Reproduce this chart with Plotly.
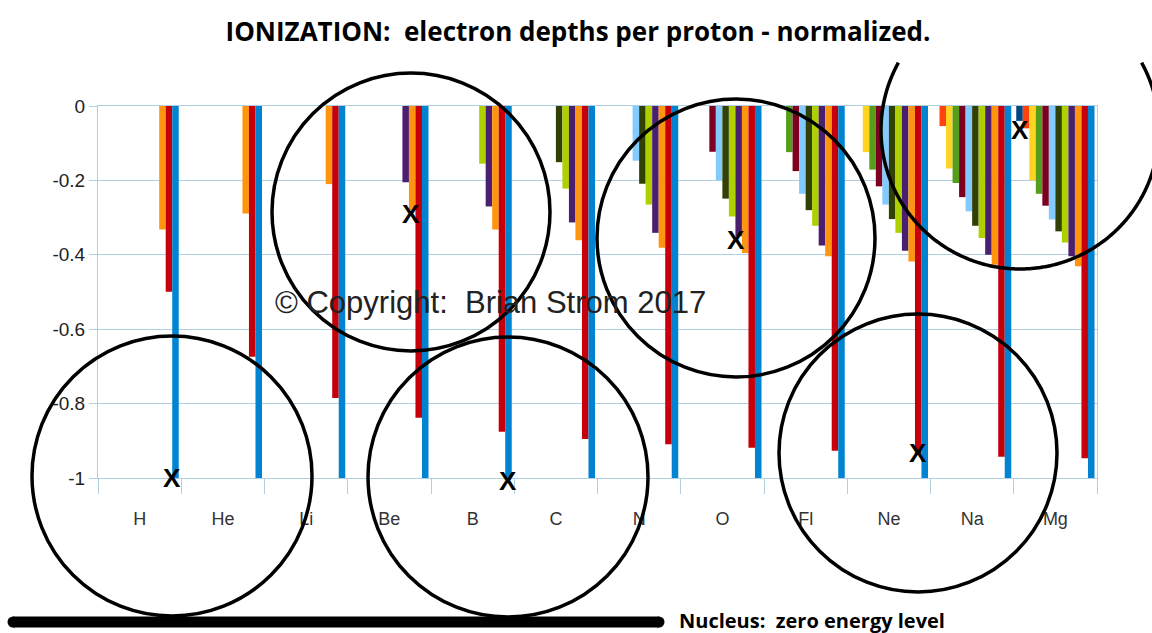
import numpy as np
import plotly.graph_objects as go

# categories (elements)
elements = ["H", "He", "Li", "Be", "B", "C", "N", "O", "Fl", "Ne", "Na", "Mg"]

# normalized electron depths, one list per ionization series (None = no bar)
depth_01 = [None, None, None, None, None, None, None, None, None, None, None, -0.04]
depth_02 = [None, None, None, None, None, None, None, None, None, None, -0.054, -0.06]
depth_03 = [None, None, None, None, None, None, None, None, None, -0.124, -0.168, -0.2]
depth_04 = [None, None, None, None, None, None, None, None, -0.124, -0.171, -0.207, -0.236]
depth_05 = [None, None, None, None, None, None, None, -0.123, -0.175, -0.216, -0.245, -0.268]
depth_06 = [None, None, None, None, None, None, -0.147, -0.2, -0.236, -0.265, -0.283, -0.305]
depth_07 = [None, None, None, None, None, -0.151, -0.209, -0.249, -0.28, -0.304, -0.322, -0.337]
depth_08 = [None, None, None, None, -0.155, -0.222, -0.265, -0.297, -0.322, -0.341, -0.355, -0.367]
depth_09 = [None, None, None, -0.205, -0.27, -0.313, -0.341, -0.35, -0.375, -0.389, -0.4, -0.404]
depth_10 = [-0.332, -0.289, -0.21, -0.28, -0.332, -0.361, -0.381, -0.395, -0.404, -0.418, -0.427, -0.431]
depth_11 = [-0.499, -0.674, -0.785, -0.838, -0.876, -0.895, -0.909, -0.919, -0.927, -0.935, -0.943, -0.947]
depth_12 = [-1, -1, -1, -1, -1, -1, -1, -1, -1, -1, -1, -1]

series = [depth_01, depth_02, depth_03, depth_04, depth_05, depth_06,
          depth_07, depth_08, depth_09, depth_10, depth_11, depth_12]

# LibreOffice default palette
colors = ["#004586", "#ff420e", "#ffd320", "#579d1c", "#7e0021", "#83caff",
          "#314004", "#aecf00", "#4b1f6f", "#ff950e", "#c5000b", "#0084d1"]

y_ticks = [0, -0.2, -0.4, -0.6, -0.8, -1]
y_tick_text = ["0", "-0.2", "-0.4", "-0.6", "-0.8", "-1"]

W, H = 1152, 633
L, R, T, B = 98, 55, 106, 155
plot_w = W - L - R
plot_h = H - T - B
grid = "#b0cfe3"


def px(x):
    return (x - L) / plot_w


def py(y):
    return (H - B - y) / plot_h


fig = go.Figure()
for i, vals in enumerate(series):
    fig.add_trace(go.Bar(
        x=elements, y=vals, name=f"Series {i + 1}",
        marker=dict(color=colors[i], line=dict(width=0)),
        showlegend=False,
    ))

# circles drawn over the chart (pixel centre, radius)
circles = [(172, 476, 140), (411, 212, 139), (508, 477, 140),
           (736, 238, 139), (918, 453, 139)]
shapes = []
for cx, cy, r in circles:
    shapes.append(dict(type="circle", xref="paper", yref="paper",
                       x0=px(cx - r), x1=px(cx + r), y0=py(cy + r), y1=py(cy - r),
                       line=dict(color="black", width=3.5), layer="above"))

# top-right circle is cut off near the top of the picture
cx, cy, r = 1020, 130, 139
t = np.linspace(-np.pi / 2, 3 * np.pi / 2, 721)
xs = cx + r * np.cos(t)
ys = cy + r * np.sin(t)
keep = ys >= 62
path = "M " + " L ".join(f"{px(a):.5f},{py(b):.5f}" for a, b in zip(xs[keep], ys[keep]))
shapes.append(dict(type="path", xref="paper", yref="paper", path=path,
                   line=dict(color="black", width=3.5), layer="above"))

# thick nucleus bar at the bottom
shapes.append(dict(type="line", xref="paper", yref="paper",
                   x0=px(13), x1=px(659), y0=py(622), y1=py(622),
                   line=dict(color="black", width=11), layer="above"))
for ex in (13, 659):
    shapes.append(dict(type="circle", xref="paper", yref="paper",
                       x0=px(ex - 5.5), x1=px(ex + 5.5), y0=py(622 + 5.5), y1=py(622 - 5.5),
                       fillcolor="black", line=dict(width=0), layer="above"))

annotations = [
    dict(text="© Copyright:  Brian Strom 2017", xref="paper", yref="paper",
         x=px(490), y=py(302), showarrow=False, xanchor="center", yanchor="middle",
         font=dict(family="Liberation Sans, Arial", size=31, color="#222222")),
    dict(text="<b>Nucleus:  zero energy level</b>", xref="paper", yref="paper",
         x=px(677), y=py(620), showarrow=False, xanchor="left", yanchor="middle",
         font=dict(family="Open Sans", size=20, color="black")),
]
for cx, cy in [(172, 478), (411, 214), (508, 481), (736, 240), (918, 453), (1020, 130)]:
    annotations.append(dict(text="<b>X</b>", xref="paper", yref="paper",
                            x=px(cx), y=py(cy), showarrow=False,
                            xanchor="center", yanchor="middle",
                            font=dict(family="Liberation Sans, Arial", size=26, color="black")))

fig.update_layout(
    width=W, height=H,
    margin=dict(l=L, r=R, t=T, b=B),
    paper_bgcolor="white", plot_bgcolor="white",
    barmode="group", bargap=0.06, bargroupgap=0,
    title=dict(text="<b>IONIZATION:  electron depths per proton - normalized.</b>",
               x=578 / W, xanchor="center", y=1 - 32 / H, yanchor="middle",
               font=dict(family="Open Sans", size=26, color="black")),
    xaxis=dict(type="category", showgrid=False, zeroline=False,
               showline=True, linecolor=grid, linewidth=1, mirror=True,
               ticks="outside", tickson="boundaries", ticklen=15, tickcolor=grid,
               ticklabelstandoff=24,
               tickfont=dict(family="Liberation Sans, Arial", size=18, color="#333333")),
    xaxis2=dict(overlaying="x", side="top", anchor="y", range=[-0.5, len(elements) - 0.5],
                tickvals=[i + 0.5 for i in range(len(elements) - 1)],
                ticks="inside", ticklen=8, tickcolor=grid, showticklabels=False,
                showgrid=False, zeroline=False, showline=False),
    yaxis=dict(range=[-1, 0], tickvals=y_ticks, ticktext=y_tick_text,
               showgrid=True, gridcolor=grid, gridwidth=1, zeroline=False,
               showline=True, linecolor=grid, linewidth=1, mirror=True,
               ticks="outside", ticklen=8, tickcolor=grid,
               tickfont=dict(family="Liberation Sans, Arial", size=19, color="#222222")),
    shapes=shapes,
    annotations=annotations,
)

fig.write_html("out.html", config=dict(displayModeBar=False),
               post_script="document.body.style.margin='0';")
